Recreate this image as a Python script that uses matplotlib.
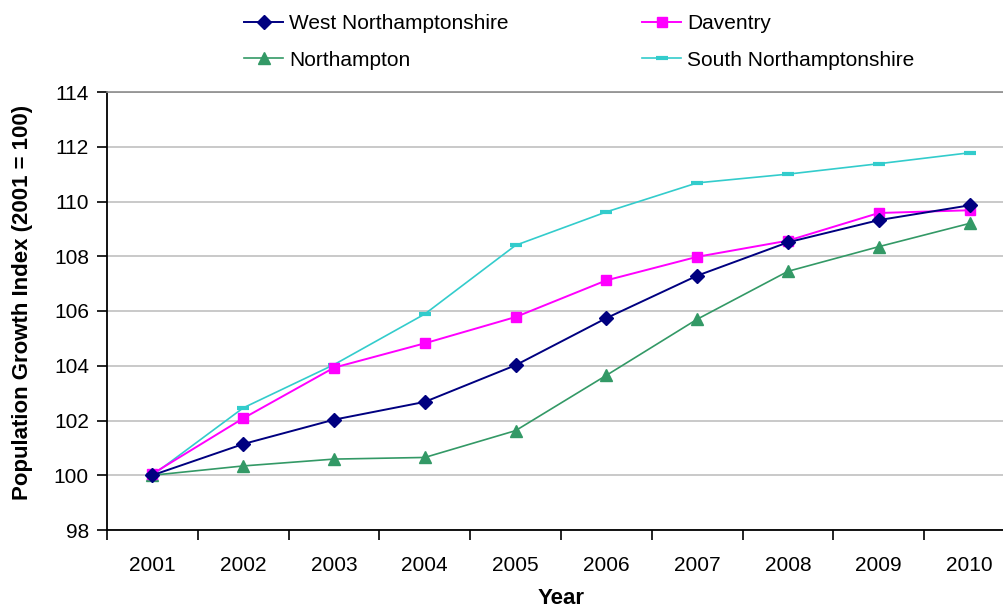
import matplotlib
matplotlib.use("Agg")
import matplotlib.pyplot as plt
import numpy as np

years = ["2001", "2002", "2003", "2004", "2005", "2006", "2007", "2008", "2009", "2010"]

west_northants = [100.0, 101.14, 102.03, 102.68, 104.02, 105.74, 107.29, 108.51, 109.32, 109.86]
daventry = [100.05, 102.08, 103.93, 104.82, 105.78, 107.12, 107.98, 108.57, 109.58, 109.68]
northampton = [100.0, 100.34, 100.59, 100.65, 101.63, 103.65, 105.70, 107.45, 108.35, 109.20]
south_northants = [100.0, 102.46, 104.04, 105.89, 108.40, 109.62, 110.68, 111.00, 111.38, 111.78]

y_ticks = [98, 100, 102, 104, 106, 108, 110, 112, 114]

plt.rcParams["font.family"] = ["Liberation Sans", "DejaVu Sans"]

fig = plt.figure(figsize=(10.04, 6.09), dpi=100)
ax = fig.add_axes([107 / 1004, 1 - 530 / 609, 908 / 1004, 438 / 609])

x = np.arange(len(years))

h_west, = ax.plot(x, west_northants, color="#000080", lw=1.4, marker="D",
                  markersize=6.8, label="West Northamptonshire", zorder=5)
h_dav, = ax.plot(x, daventry, color="#FF00FF", lw=1.4, marker="s",
                 markersize=7, label="Daventry", zorder=4)
h_nor, = ax.plot(x, northampton, color="#339966", lw=1.2, marker="^",
                 markersize=8.5, label="Northampton", zorder=3)
h_sou, = ax.plot(x, south_northants, color="#33CCCC", lw=1.2, marker="_",
                 markersize=8, markeredgewidth=3, label="South Northamptonshire", zorder=2)

ax.set_xlim(-0.5, len(years) - 0.5)
ax.set_ylim(98, 114)
ax.set_yticks(y_ticks)
ax.set_yticklabels([str(v) for v in y_ticks])
ax.set_xticks(x)
ax.set_xticklabels(years)
ax.set_xticks(np.arange(-0.5, len(years)), minor=True)
ax.tick_params(axis="x", which="major", length=0, pad=18.5, labelsize=15)
ax.tick_params(axis="x", which="minor", length=7, width=1.2, direction="out")
ax.tick_params(axis="y", length=7, width=1.2, direction="out", pad=6, labelsize=15)

ax.grid(axis="y", color="#c0c0c0", lw=1.2, zorder=0)
ax.set_axisbelow(True)
ax.spines["right"].set_visible(False)
ax.spines["top"].set_color("#8c8c8c")
ax.spines["top"].set_linewidth(1.2)
ax.spines["left"].set_linewidth(1.3)
ax.spines["bottom"].set_linewidth(1.3)

fig.text(23 / 1004, 1 - 302 / 609, "Population Growth Index (2001 = 100)",
         rotation=90, ha="center", va="center", fontsize=16, fontweight="bold")
fig.text(561 / 1004, 1 - 598 / 609, "Year", ha="center", va="center",
         fontsize=16, fontweight="bold")

ax.legend(handles=[h_west, h_nor, h_dav, h_sou], ncol=2, frameon=False,
          loc="upper left", bbox_to_anchor=(240 / 1004, 1 - 10 / 609),
          bbox_transform=fig.transFigure, fontsize=15, handlelength=1.87,
          handletextpad=0.3, columnspacing=6.4, labelspacing=0.84,
          borderaxespad=0, borderpad=0.2)

fig.savefig("out.png", dpi=100)
